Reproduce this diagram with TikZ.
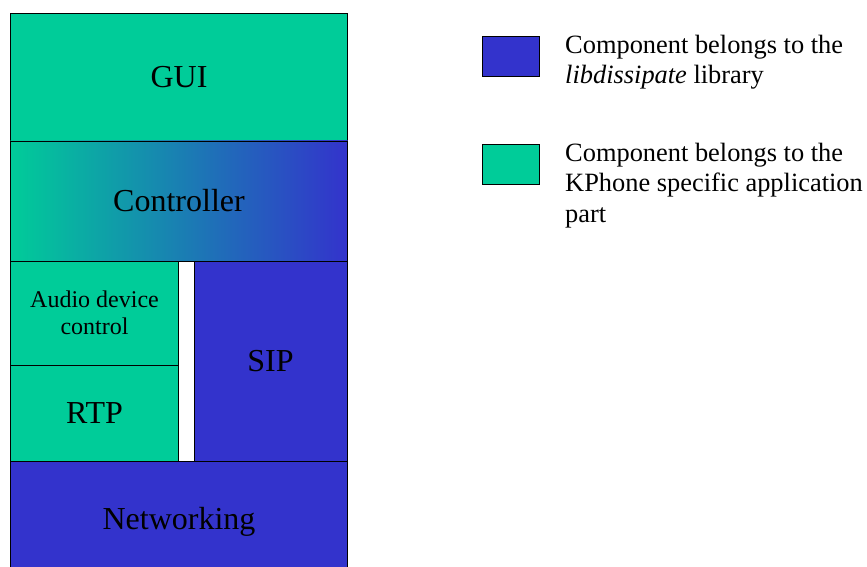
\documentclass[tikz,border=0pt]{standalone}
\usepackage{fontspec}
\setmainfont{Liberation Serif}
\usetikzlibrary{positioning}
\definecolor{appgreen}{RGB}{0,204,153}
\definecolor{libblue}{RGB}{51,51,204}
\tikzset{
  layer/.style={draw=black, line width=0.8pt, rectangle, inner sep=0pt,
    font=\fontsize{32}{36}\selectfont},
  keybox/.style={draw=black, line width=0.8pt, rectangle, inner sep=0pt,
    minimum width=57pt, minimum height=40pt},
  keytext/.style={inner sep=0pt, align=left, anchor=north west,
    font=\fontsize{26.4}{30.5}\selectfont}
}
\begin{document}
\begin{tikzpicture}[x=1pt,y=-1pt]
\useasboundingbox (0,0) rectangle (867,567);
% protocol stack
\node[layer, fill=appgreen, minimum width=337pt, minimum height=128pt] (gui) at (179,77) {\raisebox{-2pt}{GUI}};
\node[layer, left color=appgreen, right color=libblue, minimum width=337pt, minimum height=120pt] (ctrl) at (179,201) {\raisebox{-2pt}{Controller}};
\node[layer, fill=appgreen, minimum width=168pt, minimum height=104pt, align=center,
  font=\fontsize{24}{27}\selectfont] (audio) at (94.5,313) {Audio device\\control};
\node[layer, fill=appgreen, minimum width=168pt, minimum height=96pt] (rtp) at (94.5,413) {\raisebox{-1pt}{RTP}};
\node[layer, fill=libblue, minimum width=153pt, minimum height=200pt] (sip) at (270.5,361) {\raisebox{-1pt}{SIP}};
\node[layer, fill=libblue, minimum width=337pt, minimum height=122pt] (net) at (179,522) {\raisebox{-1pt}{Networking}};
% legend
\node[keybox, fill=libblue] (libkey) at (510.5,56.5) {};
\node[keybox, fill=appgreen] (appkey) at (510.5,164.5) {};
\node[keytext] (libtext) at (565,34.5) {Component belongs to the\\\textit{libdissipate} library};
\node[keytext] (apptext) at (565,142.5) {Component belongs to the\\KPhone specific application\\part};
\end{tikzpicture}
\end{document}
